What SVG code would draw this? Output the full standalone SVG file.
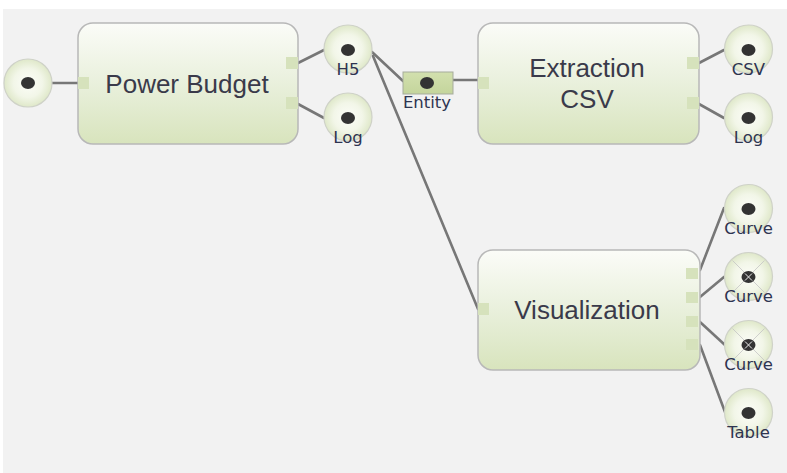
<svg xmlns="http://www.w3.org/2000/svg" width="787" height="473" viewBox="0 0 787 473">
<defs>
<linearGradient id="boxGrad" x1="0" y1="0" x2="0" y2="1">
<stop offset="0" stop-color="#fbfcf8"/>
<stop offset="0.5" stop-color="#e9f0dc"/>
<stop offset="1" stop-color="#d8e4bd"/>
</linearGradient>
<radialGradient id="circGrad" cx="0.5" cy="0.5" r="0.5">
<stop offset="0" stop-color="#fcfdf8"/>
<stop offset="0.6" stop-color="#f2f6e8"/>
<stop offset="1" stop-color="#dfe8c9"/>
</radialGradient>
<linearGradient id="entGrad" x1="0" y1="0" x2="0" y2="1">
<stop offset="0" stop-color="#d2e0ae"/>
<stop offset="1" stop-color="#c4d59c"/>
</linearGradient>
</defs>
<style>
.box{fill:url(#boxGrad);stroke:#b8b8b8;stroke-width:1.5}
.port{fill:#d6e2bc}
.circ{fill:url(#circGrad);stroke:#cfd2c8;stroke-width:1.2}
.dot{fill:#333333}
.cross{stroke:#c4c4c4;stroke-width:0.8}
.xw{stroke:#eeeeee;stroke-width:1}
.conn line{stroke:#777777;stroke-width:2.6;stroke-linecap:round}
.big{font-family:"Liberation Sans",Arial,sans-serif;font-size:26px;fill:#3a3a4a;text-anchor:middle}
.small{font-family:"DejaVu Sans",Verdana,sans-serif;font-size:16.5px;fill:#2e3450;text-anchor:middle}
</style>
<rect x="0" y="0" width="787" height="473" fill="#ffffff"/>
<rect x="3" y="9" width="784" height="464" fill="#f2f2f2"/>

<g id="connectors" class="conn">
<line x1="52" y1="83" x2="78" y2="83"/>
<line x1="298" y1="63" x2="324" y2="50"/>
<line x1="298" y1="104" x2="324" y2="118"/>
<line x1="372" y1="52" x2="403" y2="81"/>
<line x1="373" y1="56" x2="478" y2="309"/>
<line x1="453" y1="80" x2="478" y2="80"/>
<line x1="699" y1="63" x2="724" y2="50"/>
<line x1="699" y1="104" x2="724" y2="118"/>
<line x1="700" y1="270" x2="724" y2="208"/>
<line x1="700" y1="297" x2="724" y2="277"/>
<line x1="700" y1="322" x2="725" y2="345"/>
<line x1="700" y1="345" x2="725" y2="412"/>
</g>

<g id="input">
<circle class="circ" cx="28" cy="83" r="24"/>
<ellipse class="dot" cx="28" cy="83" rx="7" ry="6"/>
</g>

<g id="power-budget">
<rect class="box" x="78" y="23" width="220" height="121" rx="15"/>
<rect class="port" x="78" y="77" width="11" height="12"/>
<rect class="port" x="286" y="57" width="12" height="12"/>
<rect class="port" x="286" y="97" width="12" height="12"/>
<text class="big" x="187" y="93">Power Budget</text>
</g>

<g id="pb-h5">
<circle class="circ" cx="348" cy="49" r="24"/>
<ellipse class="dot" cx="348" cy="50" rx="7" ry="6"/>
<text class="small" x="348" y="75">H5</text>
</g>

<g id="pb-log">
<circle class="circ" cx="348" cy="117" r="24"/>
<ellipse class="dot" cx="348" cy="118" rx="7" ry="6"/>
<text class="small" x="348" y="143">Log</text>
</g>

<g id="entity">
<rect x="403" y="72" width="50" height="22" fill="url(#entGrad)" stroke="#a6ab9c" stroke-width="1"/>
<ellipse class="dot" cx="427" cy="83" rx="7" ry="6"/>
<text class="small" x="427" y="108">Entity</text>
</g>

<g id="extraction-csv">
<rect class="box" x="478" y="23" width="221" height="121" rx="15"/>
<rect class="port" x="478" y="77" width="11" height="12"/>
<rect class="port" x="687" y="57" width="12" height="12"/>
<rect class="port" x="687" y="97" width="12" height="12"/>
<text class="big" x="587" y="77">Extraction</text>
<text class="big" x="587" y="108">CSV</text>
</g>

<g id="ex-csv">
<circle class="circ" cx="748.5" cy="49" r="24"/>
<ellipse class="dot" cx="748.5" cy="50" rx="7" ry="6"/>
<text class="small" x="748.5" y="75">CSV</text>
</g>

<g id="ex-log">
<circle class="circ" cx="748.5" cy="117" r="24"/>
<ellipse class="dot" cx="748.5" cy="118" rx="7" ry="6"/>
<text class="small" x="748.5" y="143">Log</text>
</g>

<g id="visualization">
<rect class="box" x="478" y="250" width="222" height="120" rx="15"/>
<rect class="port" x="478" y="303" width="11" height="12"/>
<rect class="port" x="686" y="268" width="12" height="11"/>
<rect class="port" x="686" y="292" width="12" height="11"/>
<rect class="port" x="686" y="316" width="12" height="11"/>
<rect class="port" x="686" y="339" width="12" height="11"/>
<text class="big" x="587" y="319">Visualization</text>
</g>

<g id="vis-curve1">
<circle class="circ" cx="748.5" cy="208.5" r="24"/>
<ellipse class="dot" cx="748.5" cy="209" rx="7" ry="6"/>
<text class="small" x="748.5" y="234">Curve</text>
</g>

<g id="vis-curve2">
<circle class="circ" cx="748.5" cy="276.5" r="24"/>
<line class="cross" x1="732.5" y1="260.5" x2="764.5" y2="292.5"/>
<line class="cross" x1="764.5" y1="260.5" x2="732.5" y2="292.5"/>
<ellipse class="dot" cx="748.5" cy="277" rx="7" ry="6"/>
<line class="xw" x1="745" y1="273.5" x2="752" y2="280.5"/>
<line class="xw" x1="752" y1="273.5" x2="745" y2="280.5"/>
<text class="small" x="748.5" y="302">Curve</text>
</g>

<g id="vis-curve3">
<circle class="circ" cx="748.5" cy="344.5" r="24"/>
<line class="cross" x1="732.5" y1="328.5" x2="764.5" y2="360.5"/>
<line class="cross" x1="764.5" y1="328.5" x2="732.5" y2="360.5"/>
<ellipse class="dot" cx="748.5" cy="345" rx="7" ry="6"/>
<line class="xw" x1="745" y1="341.5" x2="752" y2="348.5"/>
<line class="xw" x1="752" y1="341.5" x2="745" y2="348.5"/>
<text class="small" x="748.5" y="370">Curve</text>
</g>

<g id="vis-table">
<circle class="circ" cx="748.5" cy="412.5" r="24"/>
<ellipse class="dot" cx="748.5" cy="413" rx="7" ry="6"/>
<text class="small" x="748.5" y="438">Table</text>
</g>
</svg>
